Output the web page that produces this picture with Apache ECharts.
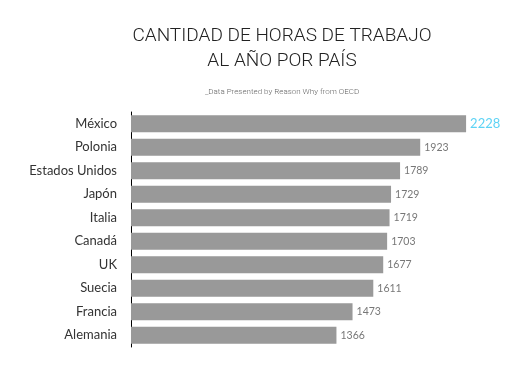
<!DOCTYPE html>
<html>
<head>
<meta charset="utf-8">
<script src="https://cdn.jsdelivr.net/npm/echarts@6/dist/echarts.min.js"></script>
<style>
  html, body { margin: 0; padding: 0; background: #fff; }
  #chart { width: 518px; height: 377px; }
</style>
</head>
<body>
<div id="chart"></div>
<script>
// datos
const paises = ["México", "Polonia", "Estados Unidos", "Japón", "Italia", "Canadá", "UK", "Suecia", "Francia", "Alemania"];
const horas = [2228, 1923, 1789, 1729, 1719, 1703, 1677, 1611, 1473, 1366];
const destacado = "México";

const myChart = echarts.init(document.getElementById("chart"));

myChart.setOption({
  animation: false,
  title: [
    {
      text: "CANTIDAD DE HORAS DE TRABAJO\nAL AÑO POR PAÍS",
      left: 277,
      top: 19,
      textAlign: "center",
      textStyle: {
        fontFamily: "Roboto, sans-serif",
        fontWeight: 300,
        fontSize: 19,
        lineHeight: 25,
        color: "#222",
      },
    },
    {
      text: "_Data Presented by Reason Why from OECD",
      left: 277,
      top: 83,
      textAlign: "center",
      textStyle: {
        fontFamily: "Roboto, sans-serif",
        fontWeight: 300,
        fontSize: 8,
        color: "#666",
      },
    },
  ],
  grid: {
    left: 131,
    right: 11,
    top: 112,
    bottom: 30,
    containLabel: false,
  },
  xAxis: {
    type: "value",
    min: 0,
    max: 2500,
    show: false,
  },
  yAxis: {
    type: "category",
    inverse: true,
    data: paises,
    axisLine: { show: true, lineStyle: { color: "#000", width: 1 } },
    axisTick: { show: false },
    axisLabel: {
      margin: 14,
      fontFamily: "Lato, sans-serif",
      fontSize: 13,
      color: "#333",
    },
  },
  series: [
    {
      type: "bar",
      barWidth: 17,
      data: horas.map((v, i) => ({
        value: v,
        label:
          paises[i] === destacado
            ? { color: "#5dd3f5", fontSize: 13 }
            : undefined,
      })),
      itemStyle: { color: "#999999" },
      label: {
        show: true,
        position: "right",
        distance: 4,
        fontFamily: "Lato, sans-serif",
        fontSize: 10.5,
        color: "#777",
      },
      silent: true,
    },
  ],
});
</script>
</body>
</html>
